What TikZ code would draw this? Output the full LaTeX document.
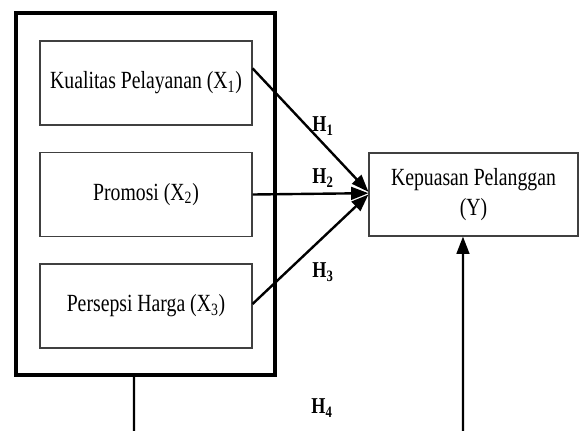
\documentclass[tikz,border=0pt]{standalone}
\usepackage{fontspec}
\setmainfont{Liberation Serif}[FakeStretch=0.8]
\usetikzlibrary{arrows.meta}

\tikzstyle{varbox}=[draw=black!75,line width=0.8pt,minimum width=159pt,minimum height=63pt,inner sep=0pt,font=\fontsize{18.5}{23}\selectfont,align=center]
\tikzstyle{frame}=[draw,line width=3pt,minimum width=194pt,minimum height=271.5pt,inner sep=0pt]
\tikzstyle{hyp}=[line width=1.8pt,-{Triangle[length=13pt,width=9.5pt]}]
\tikzstyle{hlabel}=[font=\fontsize{17}{20}\selectfont\bfseries,inner sep=0pt]

\begin{document}
\begin{tikzpicture}[x=0.75pt,y=-0.75pt]  % pixel grid, y downwards
\useasboundingbox (0,0) rectangle (579,430);

\node[frame] (frame) at (145.5,194) {};

\node[varbox] (x1) at (146,83) {Kualitas Pelayanan (X\textsubscript{1})};
\node[varbox] (x2) at (146,194.5) {Promosi (X\textsubscript{2})};
\node[varbox] (x3) at (146,306) {Persepsi Harga (X\textsubscript{3})};

\node[varbox,minimum width=156.75pt,minimum height=62.25pt] (y) at (473.5,194.5)
      {Kepuasan Pelanggan\\(Y)};

\draw[hyp] ([yshift=11pt]x1.east) -- ([yshift=2pt]y.west);
\draw[hyp] (x2.east) -- ([yshift=1pt]y.west);
\draw[hyp] ([yshift=1.5pt]x3.east) -- ([yshift=0pt]y.west);

\coordinate (bl) at (134,432);
\coordinate (br) at (463,432);
\draw[line width=1.6pt] ([xshift=-8.6pt]frame.south) -- (bl);
\draw[hyp] (br) -- ([xshift=-7.9pt]y.south);

\node[hlabel] (h1) at (323,126) {H\textsubscript{1}};
\node[hlabel] (h2) at (323,178) {H\textsubscript{2}};
\node[hlabel] (h3) at (323,272) {H\textsubscript{3}};
\node[hlabel] (h4) at (322,408) {H\textsubscript{4}};
\end{tikzpicture}
\end{document}
